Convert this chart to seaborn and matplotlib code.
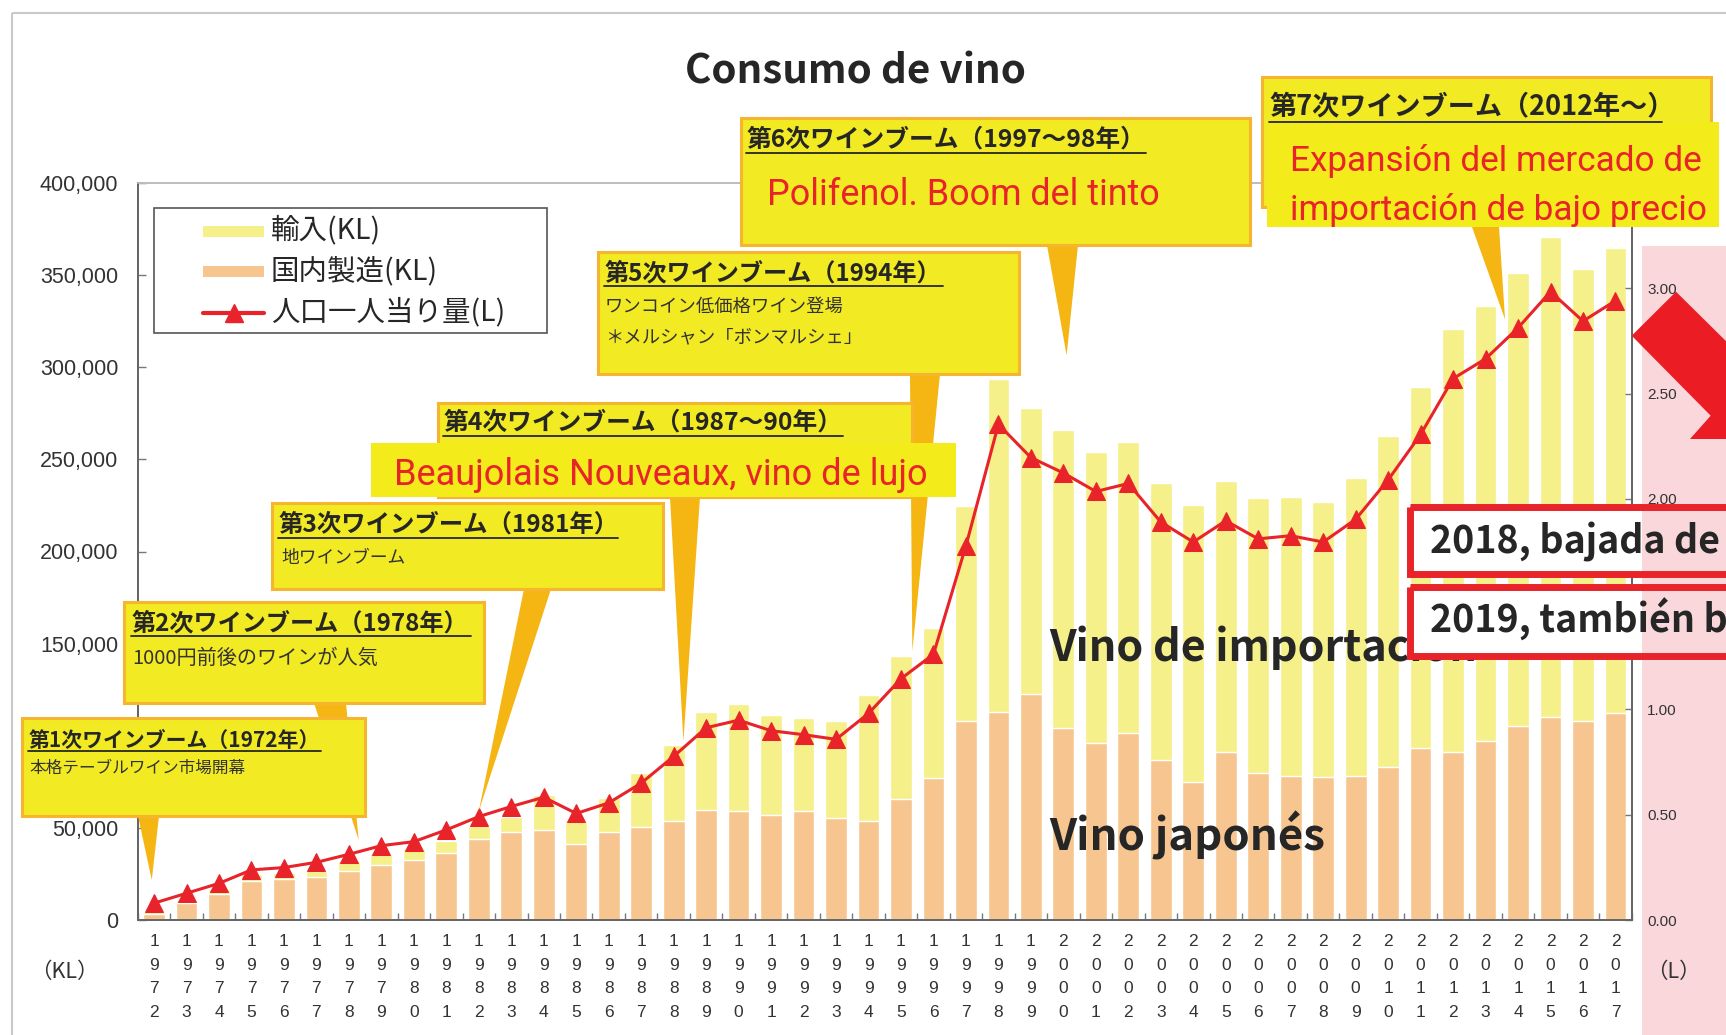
import numpy as np
import pandas as pd
import matplotlib
matplotlib.use("Agg")
import matplotlib.pyplot as plt
import matplotlib.transforms as mtransforms
from matplotlib.patches import Rectangle, Polygon
from matplotlib.lines import Line2D
import seaborn as sns

# ---------------- data ----------------
years = list(range(1972, 2018))

total_kl = [4500, 11000, 17000, 25000, 25500, 26500, 32000, 36000, 38500, 43000,
            51000, 56000, 68000, 54000, 66000, 79700, 95100, 112700, 117400, 111400,
            109600, 107800, 122300, 143500, 158500, 224600, 293600, 278000, 266200, 254100,
            259400, 237200, 225400, 238200, 229100, 229800, 226600, 240100, 262800, 289400,
            320900, 333200, 350900, 370600, 353400, 364500]

domestic_kl = [3000, 9000, 14100, 21400, 22100, 23600, 26600, 29900, 32600, 36200,
               44000, 47500, 48900, 41500, 47500, 50400, 53800, 59800, 59400, 57100,
               59200, 55300, 53800, 65600, 77000, 108000, 112700, 122700, 104300, 96000,
               101600, 87000, 74700, 91200, 79700, 78200, 77700, 78200, 83100, 93200,
               91200, 97400, 105300, 110200, 107900, 112600]

per_capita_l = [0.08, 0.127, 0.174, 0.238, 0.249, 0.274, 0.312, 0.353, 0.372, 0.428,
                0.491, 0.539, 0.583, 0.506, 0.556, 0.65, 0.777, 0.913, 0.949, 0.899,
                0.88, 0.858, 0.981, 1.146, 1.262, 1.777, 2.354, 2.196, 2.123, 2.035,
                2.073, 1.89, 1.795, 1.896, 1.81, 1.825, 1.795, 1.903, 2.09, 2.306,
                2.571, 2.665, 2.812, 2.984, 2.844, 2.941]

left_ticks = [0, 50000, 100000, 150000, 200000, 250000, 300000, 350000, 400000]
right_ticks = [0.0, 0.5, 1.0, 1.5, 2.0, 2.5, 3.0]

legend_labels = ["輸入(KL)", "国内製造(KL)", "人口一人当り量(L)"]

# callout texts: (title, [sub lines])
booms = [
    ("第1次ワインブーム（1972年）", ["本格テーブルワイン市場開幕"]),
    ("第2次ワインブーム（1978年）", ["1000円前後のワインが人気"]),
    ("第3次ワインブーム（1981年）", ["地ワインブーム"]),
    ("第4次ワインブーム（1987〜90年）", []),
    ("第5次ワインブーム（1994年）", ["ワンコイン低価格ワイン登場", "＊メルシャン「ボンマルシェ」"]),
    ("第6次ワインブーム（1997〜98年）", []),
    ("第7次ワインブーム（2012年〜）", []),
]
# where each pointer lands, in (bar index, KL)
pointer_targets = [(-0.07, 21700), (6.3, 43500), (10.0, 59000), (16.3, 97000),
                   (23.35, 146000), (28.1, 306500), (41.6, 326000)]

# ---------------- style ----------------
IMPORT = "#f6f08a"
DOMESTIC = "#f7c690"
RED = "#e8232a"
BOX_FILL = "#f2ea22"
BOX_EDGE = "#f5b52e"
BAND = "#f3ec1a"
POINTER = "#f5b512"
PINK = "#f9d7db"
DARK = "#262626"
CJK = ["Noto Sans CJK JP", "DejaVu Sans"]
LAT = ["Liberation Sans", "DejaVu Sans"]
NARROW = ["Roboto", "DejaVu Sans"]

sns.set_theme(style="white")
plt.rcParams["font.family"] = CJK

W, H = 1726, 1035
fig = plt.figure(figsize=(W / 100, H / 100), dpi=100)
fig.patch.set_facecolor("white")
# pixel coordinates, origin top-left
px = mtransforms.Affine2D().scale(1 / W, -1 / H).translate(0, 1) + fig.transFigure

X0, X1, Y0, Y1 = 137.8, 1631.7, 183.0, 920.0
ax = fig.add_axes([X0 / W, 1 - Y1 / H, (X1 - X0) / W, (Y1 - Y0) / H])

df = pd.DataFrame({
    "year": [str(y) for y in years],
    "total": total_kl,
    "domestic": domestic_kl,
    "per_capita": per_capita_l,
    "pos": np.arange(len(years)),
})

sns.barplot(data=df, x="year", y="total", color=IMPORT, saturation=1, width=0.67,
            errorbar=None, ax=ax, zorder=2)
sns.barplot(data=df, x="year", y="domestic", color=DOMESTIC, saturation=1, width=0.67,
            errorbar=None, ax=ax, zorder=3)

ax2 = ax.twinx()
sns.lineplot(data=df, x="pos", y="per_capita", ax=ax2, color=RED, linewidth=2.2,
             marker="^", markersize=13.5, markeredgecolor=RED, markerfacecolor=RED, zorder=4)

ax.set_xlim(-0.5, len(years) - 0.5)
ax.set_ylim(0, 400000)
ax2.set_ylim(0, 3.5)
for a in (ax, ax2):
    a.set_xlabel("")
    a.set_ylabel("")

ax.set_xticks(range(len(years)))
ax.set_xticklabels(["\n".join(str(y)) for y in years], fontsize=12.5, linespacing=1.72,
                   family=LAT, color="#333333")
ax.set_xticks(np.arange(-0.5, len(years), 1), minor=True)
ax.tick_params(axis="x", which="major", length=0, pad=10)
ax.tick_params(axis="x", which="minor", direction="in", length=5, width=1, color="#777777",
               bottom=True)

# the 100,000 label sits under the callout boxes, so it is left blank
ax.set_yticks(left_ticks)
ax.set_yticklabels(["" if v == 100000 else f"{v:,}" for v in left_ticks], fontsize=15.5,
                   family=LAT, color="#333333")
ax.tick_params(axis="y", direction="in", length=6, width=1, color="#777777", pad=14, left=True)
ax2.set_yticks(right_ticks)
ax2.set_yticklabels([f"{v:.2f}" for v in right_ticks], fontsize=11, family=LAT, color="#333333")
ax2.tick_params(axis="y", direction="in", length=5, width=1, color="#777777", pad=11, right=True)

for a in (ax, ax2):
    for s in ("left", "bottom", "right"):
        a.spines[s].set_color("#666666")
        a.spines[s].set_linewidth(1.4)
    a.spines["top"].set_color("#bdbdbd")
    a.spines["top"].set_linewidth(1.2)
ax.grid(False)
ax2.grid(False)


# ---------------- helpers in pixel space ----------------
def box(x0, y0, x1, y1, fc, ec="none", lw=0.0, z=6):
    fig.add_artist(Rectangle((x0, y0), x1 - x0, y1 - y0, transform=px, facecolor=fc,
                             edgecolor=ec, linewidth=lw, zorder=z))


def txt(x, y, s, **kw):
    return fig.text(x, y, s, transform=px, **kw)


def hline(x0, x1, y, color=DARK, lw=1.2, z=8):
    fig.add_artist(Line2D([x0, x1], [y, y], transform=px, color=color, linewidth=lw, zorder=z))


def data_px(x, y):
    dx, dy = ax.transData.transform((x, y))
    return dx, H - dy


# outer frame
box(12, 13, 1760, 1060, "none", "#c9c9c9", 1.5, z=0.5)

# pink side panel (kept below the axes so the right labels stay on top)
box(1642, 246, 1760, 1060, PINK, z=-1)

# axis unit labels
txt(64, 972, "（KL）", fontsize=15.5, family=CJK, color="#333333", ha="center", va="center")
txt(1673, 972, "（L）", fontsize=15.5, family=CJK, color="#333333", ha="center", va="center")

# title
txt(685, 84, "Consumo de vino", fontsize=29, fontweight="bold", family=CJK, color=DARK,
    ha="left", va="baseline", zorder=9)

# legend
box(154, 208, 547, 333, "white", "#555555", 1.2, z=6)
box(203, 226, 264, 237, IMPORT, z=7)
box(203, 266, 264, 277, DOMESTIC, z=7)
fig.add_artist(Line2D([203, 264], [313, 313], transform=px, color=RED, linewidth=3, zorder=7))
fig.add_artist(Line2D([233.5], [313], transform=px, color=RED, marker="^", markersize=13,
                      linestyle="none", zorder=7))
for yy, lab in zip([230, 271, 312], legend_labels):
    txt(271, yy, lab, fontsize=20.5, family=CJK, color=DARK, ha="left", va="center", zorder=8)

# ---------------- callouts ----------------
# pointer bases (x0, x1, y) on the box edge
pointer_bases = [(138, 159, 816), (314, 346, 703), (524, 551, 589), (670, 700, 497),
                 (910, 940, 374), (1047, 1078, 245), (1472, 1499, 227)]
for (bx0, bx1, by), (tx, ty) in zip(pointer_bases, pointer_targets):
    tip = data_px(tx, ty)
    fig.add_artist(Polygon([(bx0, by), (bx1, by), tip], closed=True, transform=px,
                           facecolor=POINTER, edgecolor="none", zorder=5))

# boxes: (x0, y0, x1, y1), title pos, title size, underline end, sub positions, sub size
specs = [
    ((22, 718, 365, 816), (29, 740), 15, 321, [(29, 768)], 12),
    ((124, 602, 484, 703), (132, 623), 17.4, 471, [(132, 658)], 14.5),
    ((272, 503, 663, 589), (279, 525), 17.6, 618, [(281, 558)], 12.8),
    ((438, 403, 912, 497), (444, 423), 17.8, 843, [], 12),
    ((598, 252, 1019, 374), (605, 273), 17.4, 943, [(605, 307), (605, 337)], 13.2),
    ((741, 118, 1250, 245), (747, 140), 17.8, 1146, [], 12),
    ((1262, 77, 1711, 207), (1270, 107), 19.5, 1662, [], 12),
]
for (title, subs), (rc, tp, tsize, uend, spos, ssize) in zip(booms, specs):
    box(*rc, BOX_FILL, BOX_EDGE, 2.2, z=6)
    txt(tp[0], tp[1], title, fontsize=tsize, fontweight="bold", family=CJK, color=DARK,
        ha="left", va="center", zorder=8)
    hline(tp[0] - 1, uend, tp[1] + tsize * 0.75, lw=1.3)
    for (sx, sy), s in zip(spos, subs):
        txt(sx, sy, s, fontsize=ssize, family=CJK, color="#333333", ha="left",
            va="center", zorder=8)

# red highlight captions
box(371, 443, 956, 497, BAND, z=7)
txt(394, 485, "Beaujolais Nouveaux, vino de lujo", fontsize=26, family=NARROW, color=RED,
    ha="left", va="baseline", zorder=8)
txt(767, 205, "Polifenol. Boom del tinto", fontsize=25.8, family=NARROW, color=RED,
    ha="left", va="baseline", zorder=8)
box(1267, 122, 1719, 227, BAND, z=7)
txt(1290, 171.5, "Expansión del mercado de", fontsize=25.3, family=NARROW, color=RED,
    ha="left", va="baseline", zorder=8)
txt(1290, 220, "importación de bajo precio", fontsize=25.3, family=NARROW, color=RED,
    ha="left", va="baseline", zorder=8)

# segment labels inside the bars
txt(1049, 661.5, "Vino de importación", fontsize=31, fontweight="bold", family=CJK,
    color=DARK, ha="left", va="baseline", zorder=6.5)
txt(1049, 851, "Vino japonés", fontsize=31.5, fontweight="bold", family=CJK,
    color=DARK, ha="left", va="baseline", zorder=6.5)

# 2018 / 2019 notes
for (y0, y1), s, base in [((506.5, 574), "2018, bajada de", 553),
                          ((587, 655.5), "2019, también b", 633)]:
    box(1409.5, y0, 1642, y1, "white", z=7)
    box(1642, y0, 1760, y1, PINK, z=7)
    box(1409.5, y0, 1760, y1, "none", RED, 5.0, z=7.5)
    txt(1430, base, s, fontsize=27, fontweight="bold", family=CJK, color=DARK,
        ha="left", va="baseline", zorder=8)

# red downward arrow
arrow = [(1631.7, 335.7), (1676, 291.7), (1755.8, 370.6), (1779.1, 349.9),
         (1779.1, 439), (1690, 439), (1710.7, 415.7)]
fig.add_artist(Polygon(arrow, closed=True, transform=px, facecolor="#ec1c24",
                       edgecolor="none", zorder=9))

fig.savefig("out.png", dpi=100)
